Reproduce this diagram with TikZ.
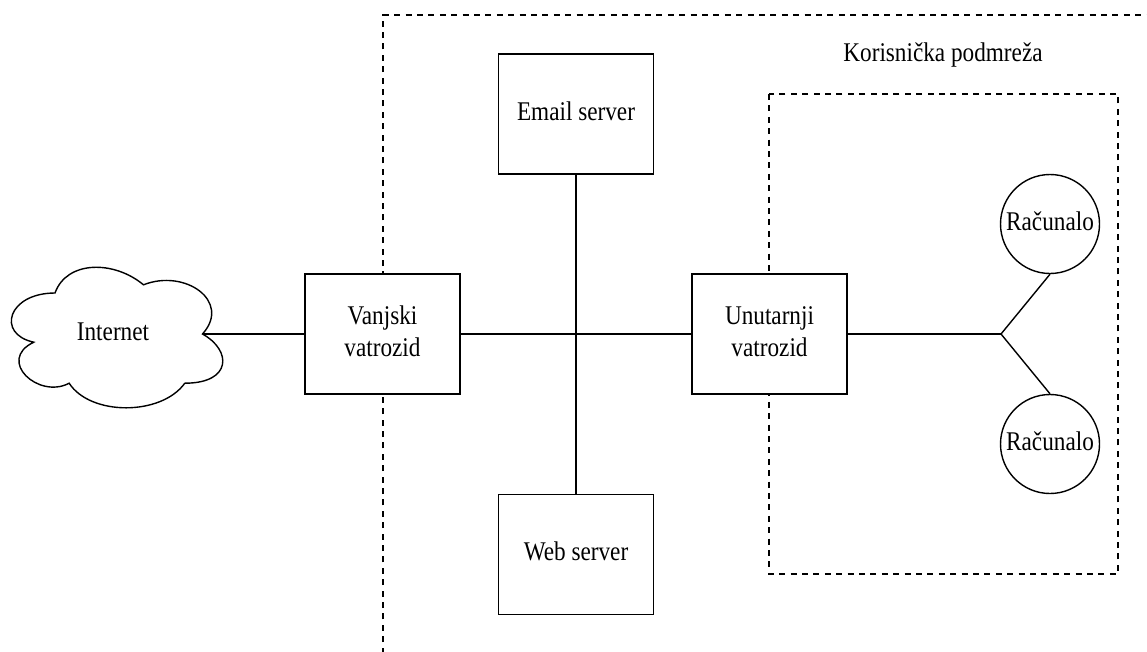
\documentclass[tikz,border=0pt]{standalone}
\usepackage{fontspec}
\setmainfont{Liberation Serif}
\usepackage{graphicx}
\newcommand\dtxt[1]{\scalebox{1.29}[1.5]{\begin{tabular}{@{}c@{}}#1\end{tabular}}}
\begin{document}
\begin{tikzpicture}[x=1pt,y=-1pt,
  solid line/.style={line width=1.4pt, draw=black},
  zone/.style={line width=1.3pt, draw=black, dash pattern=on 6pt off 5.4pt},
  box/.style={draw, line width=1.4pt, fill=white, minimum width=155pt, minimum height=120pt,
    inner sep=0pt, font=\fontsize{18}{21}\selectfont},
  pc/.style={draw, circle, line width=1.4pt, fill=white, minimum size=99pt, inner sep=0pt,
    font=\fontsize{18}{21}\selectfont},
  txt/.style={inner sep=0pt, font=\fontsize{18}{21}\selectfont}]
\useasboundingbox[fill=white] (0,0) rectangle (1147,651);
% zones
\draw[zone] (383,665) -- (383,15) -- (1165,15);
\draw[zone] (769,94) rectangle (1118,574);
\node[txt] (zonelbl) at (943,55) {\dtxt{Korisnička podmreža}};
% cloud
\begin{scope}[shift={(-4,252)}, x=236pt, y=-164pt]
  \draw[solid line, fill=white] (0.25,0.25)
    .. controls (0.05,0.25) and (0,0.5) .. (0.16,0.55)
    .. controls (0,0.66) and (0.18,0.9) .. (0.31,0.8)
    .. controls (0.4,1) and (0.7,1) .. (0.8,0.8)
    .. controls (1,0.8) and (1,0.6) .. (0.875,0.5)
    .. controls (1,0.3) and (0.8,0.1) .. (0.625,0.2)
    .. controls (0.5,0.05) and (0.3,0.05) .. (0.25,0.25) -- cycle;
  \coordinate (cloudE) at (0.875,0.5);
\end{scope}
\node[txt] (internet) at (113,334) {\dtxt{Internet}};
% nodes
\node[box] (email) at (576,114) {\dtxt{Email server}};
\node[box] (web) at (576,554.5) {\dtxt{Web server}};
\node[box] (vanjski) at (382.5,334) {\dtxt{Vanjski\\vatrozid}};
\node[box] (unutarnji) at (769.5,334) {\dtxt{Unutarnji\\vatrozid}};
\node[pc] (pc1) at (1050,224) {\dtxt{\makebox[0pt]{Računalo}}};
\node[pc] (pc2) at (1050,444) {\dtxt{\makebox[0pt]{Računalo}}};
\coordinate (branch) at (1001,334);
% connectors
\draw[solid line] (cloudE) -- (vanjski.west);
\draw[solid line] (vanjski.east) -- (unutarnji.west);
\draw[solid line] (email.south) -- (web.north);
\draw[solid line] (unutarnji.east) -- (branch);
\draw[solid line] (branch) -- (pc1.south);
\draw[solid line] (branch) -- (pc2.north);
\end{tikzpicture}
\end{document}
